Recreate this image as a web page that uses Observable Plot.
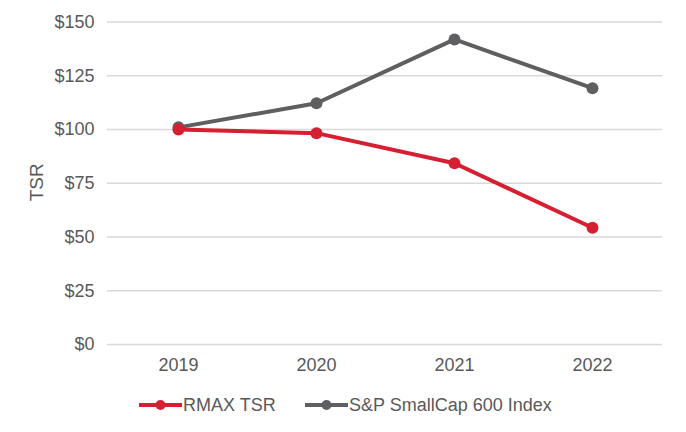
<!DOCTYPE html>
<html>
<head>
<meta charset="utf-8">
<script src="https://cdn.jsdelivr.net/npm/d3@7"></script>
<script src="https://cdn.jsdelivr.net/npm/@observablehq/plot@0.6"></script>
<style>
  body { margin: 0; background: #fff; font-family: "Liberation Sans", Arial, sans-serif; }
  #legend { position: relative; height: 47px; width: 686px; font-size: 18px; color: #595959; }
  .item { position: absolute; top: 9px; display: flex; align-items: center; line-height: 22px; }
  .item svg { margin-right: 1px; }
</style>
</head>
<body>
<div id="chart"></div>
<div id="legend"></div>
<script>
const years = ["2019", "2020", "2021", "2022"];
const seriesNames = ["RMAX TSR", "S&P SmallCap 600 Index"];
const rmax = [100, 98.3, 84.3, 54.3];
const sp600 = [101, 112.2, 141.9, 119.2];
const yTicks = [0, 25, 50, 75, 100, 125, 150];
const colors = ["#d71f32", "#5f5f62"];

const data = [];
years.forEach((y, i) => {
  data.push({year: y, series: seriesNames[0], value: rmax[i]});
  data.push({year: y, series: seriesNames[1], value: sp600[i]});
});

const chart = Plot.plot({
  width: 686,
  height: 385,
  marginLeft: 107,
  marginRight: 24,
  marginTop: 21.5,
  marginBottom: 41,
  style: {fontFamily: "Liberation Sans, Arial, sans-serif", fontSize: "18px", color: "#595959", background: "#fff"},
  x: {type: "point", domain: years, padding: 0.5, label: null},
  y: {domain: [0, 150], label: null},
  color: {domain: seriesNames, range: colors},
  marks: [
    Plot.gridY(yTicks, {stroke: "#d9d9d9", strokeOpacity: 1, strokeWidth: 1.3}),
    Plot.axisY(yTicks, {tickSize: 0, tickPadding: 13, tickFormat: d => "$" + d, fontSize: 18, fill: "#595959",
      label: null}),
    Plot.axisX(years, {tickSize: 0, tickPadding: 14, fontSize: 18, fill: "#595959", label: null}),
    Plot.text(["TSR"], {frameAnchor: "left", dx: -71, dy: 18, rotate: -90, fontSize: 19, fill: "#595959",
      text: d => d, letterSpacing: "2px"}),
    Plot.line(data.filter(d => d.series === seriesNames[1]), {x: "year", y: "value", stroke: colors[1], strokeWidth: 4}),
    Plot.dot(data.filter(d => d.series === seriesNames[1]), {x: "year", y: "value", fill: colors[1], r: 6}),
    Plot.line(data.filter(d => d.series === seriesNames[0]), {x: "year", y: "value", stroke: colors[0], strokeWidth: 4}),
    Plot.dot(data.filter(d => d.series === seriesNames[0]), {x: "year", y: "value", fill: colors[0], r: 6})
  ]
});
document.getElementById("chart").appendChild(chart);

const legend = document.getElementById("legend");
const lefts = [139, 305];
seriesNames.forEach((name, i) => {
  const div = document.createElement("div");
  div.className = "item";
  div.style.left = lefts[i] + "px";
  div.innerHTML = `<svg width="43" height="12"><line x1="0" y1="6" x2="43" y2="6" stroke="${colors[i]}" stroke-width="4"/><circle cx="21.5" cy="6" r="5" fill="${colors[i]}"/></svg><span>${name}</span>`;
  legend.appendChild(div);
});
</script>
</body>
</html>
